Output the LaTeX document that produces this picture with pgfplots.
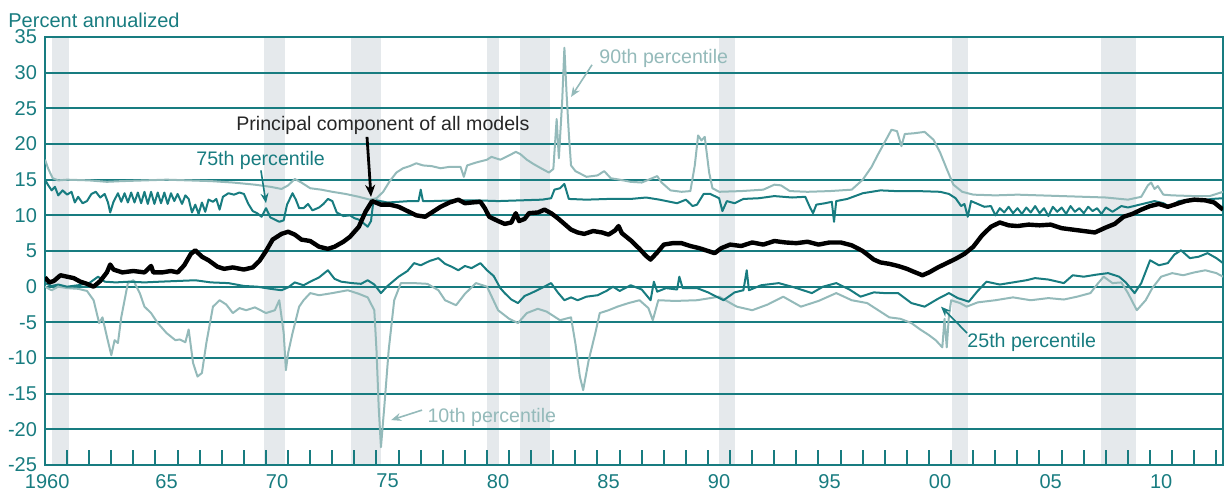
\documentclass[border=0pt]{standalone}
\usepackage{pgfplots}
\pgfplotsset{compat=1.18}
\usepackage{fontspec}
\setmainfont{Liberation Sans}
\usetikzlibrary{arrows.meta}
\definecolor{tealA}{RGB}{24,124,128}
\definecolor{tealL}{RGB}{148,186,186}
\definecolor{rec}{RGB}{229,233,236}
\begin{document}
\begin{tikzpicture}
\begin{axis}[
  name=ax, at={(0,0)}, anchor=south west,
  scale only axis, width=589pt, height=214pt,
  xmin=1960, xmax=2013.3, ymin=-25, ymax=35,
  ytick={-25,-20,-15,-10,-5,0,5,10,15,20,25,30,35},
  xtick={1960.1,1965.5,1970.5,1975.5,1980.5,1985.5,1990.5,1995.5,2000.5,2005.5,2010.5},
  xticklabels={1960,65,70,75,80,85,90,95,00,05,10},
  minor xtick={1961,1962,...,2013},
  xtick pos=bottom, ytick pos=left,
  major tick length=0pt, minor tick length=7.5pt, tick align=inside,
  minor tick style={tealA, line width=1pt},
  ymajorgrids, grid style={tealA, line width=1pt},
  axis line style={tealA, line width=1.2pt},
  ticklabel style={font=\fontsize{10}{12}\selectfont, text=tealA},
  yticklabel style={xshift=-0.5pt},
  xticklabel style={yshift=-1pt},
  /pgf/number format/assume math mode=true,
  set layers,
]
% recessions
\addplot[fill=rec, draw=none, on layer=axis background] coordinates {(1960.3,-25) (1961.1,-25) (1961.1,35) (1960.3,35)} -- cycle;
\addplot[fill=rec, draw=none, on layer=axis background] coordinates {(1969.9,-25) (1970.85,-25) (1970.85,35) (1969.9,35)} -- cycle;
\addplot[fill=rec, draw=none, on layer=axis background] coordinates {(1973.85,-25) (1975.2,-25) (1975.2,35) (1973.85,35)} -- cycle;
\addplot[fill=rec, draw=none, on layer=axis background] coordinates {(1980.0,-25) (1980.55,-25) (1980.55,35) (1980.0,35)} -- cycle;
\addplot[fill=rec, draw=none, on layer=axis background] coordinates {(1981.5,-25) (1982.85,-25) (1982.85,35) (1981.5,35)} -- cycle;
\addplot[fill=rec, draw=none, on layer=axis background] coordinates {(1990.5,-25) (1991.2,-25) (1991.2,35) (1990.5,35)} -- cycle;
\addplot[fill=rec, draw=none, on layer=axis background] coordinates {(2001.05,-25) (2001.75,-25) (2001.75,35) (2001.05,35)} -- cycle;
\addplot[fill=rec, draw=none, on layer=axis background] coordinates {(2007.8,-25) (2009.35,-25) (2009.35,35) (2007.8,35)} -- cycle;

% 10th percentile
\addplot[tealL, line width=1pt, mark=none, line join=round] coordinates {
(1960.0,0.0) (1960.3,-0.5) (1960.6,0.0) (1961.0,-0.2) (1961.5,-0.3) (1961.9,-0.6) (1962.2,-1.9) (1962.45,-5.1) (1962.6,-4.3) (1962.8,-7.0) (1963.0,-9.6) (1963.15,-7.5) (1963.3,-7.9) (1963.45,-4.3) (1963.6,-1.9) (1963.75,0.5) (1964.0,0.9) (1964.3,-1.0) (1964.5,-2.8) (1964.8,-3.7) (1965.1,-5.1) (1965.5,-6.5) (1965.9,-7.5) (1966.1,-7.4) (1966.35,-7.8) (1966.5,-6.0) (1966.7,-10.7) (1966.9,-12.6) (1967.1,-12.1) (1967.3,-7.9) (1967.6,-2.8) (1967.9,-1.9) (1968.2,-2.5) (1968.5,-3.7) (1968.8,-3.0) (1969.1,-3.3) (1969.5,-2.9) (1970.0,-3.7) (1970.4,-3.3) (1970.6,-1.9) (1970.8,-6.5) (1970.9,-11.7) (1971.0,-9.3) (1971.2,-6.5) (1971.5,-2.8) (1971.7,-1.9) (1972.0,-0.9) (1972.4,-1.2) (1973.0,-0.9) (1973.7,-0.5) (1974.2,-1.0) (1974.6,-1.5) (1974.9,-3.3) (1975.0,-9) (1975.1,-17) (1975.2,-22.5) (1975.35,-16.9) (1975.55,-8.9) (1975.8,-1.9) (1976.1,0.5) (1976.7,0.5) (1977.3,0.4) (1977.8,-0.5) (1978.1,-1.9) (1978.6,-2.6) (1979.0,-1.0) (1979.5,0.5) (1980.0,0.0) (1980.5,-3.3) (1981.0,-4.5) (1981.4,-5.1) (1981.8,-3.7) (1982.3,-3.1) (1982.7,-3.5) (1983.3,-4.7) (1983.8,-4.3) (1984.0,-8) (1984.2,-12.6) (1984.35,-14.5) (1984.6,-10.3) (1984.9,-6.5) (1985.1,-3.7) (1985.5,-3.3) (1985.9,-2.8) (1986.4,-2.3) (1986.9,-1.9) (1987.3,-3.0) (1987.5,-4.7) (1987.75,-1.9) (1988.5,-2.0) (1989.5,-1.9) (1990.5,-1.4) (1991.3,-2.8) (1992.0,-3.3) (1992.7,-2.5) (1993.4,-1.4) (1994.2,-2.8) (1995.0,-2.0) (1995.8,-0.9) (1996.5,-1.9) (1997.2,-2.3) (1997.8,-3.5) (1998.2,-4.3) (1998.7,-4.5) (1999.2,-5.1) (1999.6,-6.0) (2000.0,-6.8) (2000.3,-7.5) (2000.6,-8.5) (2000.7,-4.5) (2000.8,-8.5) (2000.9,-4.0) (2001.0,-1.9) (2001.4,-2.3) (2001.7,-2.8) (2002.2,-2.2) (2003.0,-1.9) (2003.8,-1.5) (2004.6,-1.9) (2005.4,-1.6) (2006.1,-1.8) (2006.7,-1.4) (2007.3,-0.9) (2007.6,0.3) (2007.9,1.4) (2008.3,0.5) (2008.7,0.6) (2009.0,-0.9) (2009.4,-3.3) (2009.8,-1.9) (2010.1,-0.2) (2010.5,1.4) (2011.0,1.9) (2011.5,1.6) (2012.0,2.0) (2012.5,2.3) (2013.0,1.9) (2013.3,1.4)
};
% 90th percentile
\addplot[tealL, line width=1pt, mark=none, line join=round] coordinates {
(1960.0,17.8) (1960.15,16.5) (1960.35,15.2) (1960.6,14.9) (1961,15.0) (1962,14.9) (1962.8,14.7) (1963.5,14.8) (1964.5,14.9) (1965.5,15.0) (1966.5,14.9) (1967.5,14.8) (1968.5,14.6) (1969.5,14.3) (1970.2,14.0) (1970.7,13.7) (1971.0,14.2) (1971.3,15.1) (1971.6,14.6) (1972.0,13.8) (1972.5,13.6) (1973.0,13.3) (1973.6,13.0) (1974.2,12.6) (1974.7,12.2) (1975.0,12.4) (1975.3,13.3) (1975.6,14.8) (1975.9,16.0) (1976.2,16.6) (1976.5,16.9) (1976.8,17.3) (1977.1,17.0) (1977.5,16.9) (1977.9,16.6) (1978.3,16.8) (1978.8,16.8) (1978.95,15.4) (1979.1,17.0) (1979.5,17.4) (1980.0,17.8) (1980.2,18.2) (1980.6,17.8) (1981.0,18.4) (1981.3,18.9) (1981.5,18.6) (1981.8,17.8) (1982.1,17.2) (1982.5,16.5) (1982.8,16.0) (1983.0,16.5) (1983.15,23.5) (1983.25,18) (1983.4,26) (1983.5,33.5) (1983.6,27) (1983.7,21.5) (1983.8,17) (1984.0,16.2) (1984.5,15.4) (1985.0,15.6) (1985.3,16.2) (1985.6,15.2) (1986.0,15.0) (1986.5,14.7) (1987.0,14.6) (1987.7,15.5) (1987.9,14.6) (1988.3,13.5) (1988.8,13.3) (1989.2,13.4) (1989.4,17) (1989.55,21.2) (1989.7,20.5) (1989.85,21.0) (1990.05,16) (1990.2,13.8) (1990.5,13.3) (1991.5,13.4) (1992.5,13.6) (1993.0,14.3) (1993.3,14.2) (1993.7,13.4) (1994.5,13.3) (1995.5,13.4) (1996.5,13.6) (1997.0,15.0) (1997.4,16.8) (1997.7,18.6) (1998.0,20.3) (1998.3,22.0) (1998.55,21.8) (1998.75,19.7) (1998.9,21.4) (1999.3,21.5) (1999.8,21.7) (2000.2,20.6) (2000.5,18.8) (2000.8,16.5) (2001.1,14.3) (2001.5,13.3) (2002.0,12.9) (2003,12.8) (2004,12.9) (2005,12.8) (2006,12.7) (2007,12.6) (2008,12.5) (2009,12.2) (2009.6,12.6) (2009.9,14.2) (2010.05,14.6) (2010.2,13.7) (2010.35,14.1) (2010.6,12.9) (2011,12.8) (2012,12.7) (2012.7,12.7) (2013.3,13.3)
};
% 25th percentile
\addplot[tealA, line width=1pt, mark=none, line join=round] coordinates {
(1960.0,0.5) (1960.3,0.1) (1960.6,0.3) (1961.0,0.0) (1961.5,0.2) (1962.0,0.5) (1962.4,1.4) (1962.7,0.7) (1963.2,0.6) (1963.8,0.7) (1964.5,0.6) (1965.2,0.7) (1966.0,0.8) (1966.8,0.9) (1967.5,0.6) (1968.3,0.5) (1969.0,0.1) (1969.6,0.0) (1970.2,-0.3) (1970.7,-0.5) (1971.0,-0.1) (1971.3,0.6) (1971.7,0.2) (1972.0,0.7) (1972.4,1.3) (1972.8,2.3) (1973.1,1.1) (1973.4,0.7) (1973.9,0.5) (1974.3,0.4) (1974.6,0.9) (1974.9,0.3) (1975.2,-0.9) (1975.5,0.1) (1976.0,1.4) (1976.4,2.2) (1976.7,3.3) (1977.0,3.0) (1977.4,3.6) (1977.8,4.0) (1978.1,3.2) (1978.4,2.8) (1978.7,2.3) (1979.0,2.9) (1979.3,2.6) (1979.7,3.3) (1980.0,2.3) (1980.3,1.5) (1980.6,-0.2) (1980.8,-0.9) (1981.1,-1.8) (1981.4,-2.3) (1981.7,-1.3) (1982.0,-0.9) (1982.4,-0.3) (1982.9,0.5) (1983.2,-0.8) (1983.5,-1.9) (1983.8,-1.5) (1984.1,-1.9) (1984.5,-1.4) (1985.0,-1.2) (1985.4,-0.6) (1985.7,0.0) (1986.0,-0.6) (1986.5,0.2) (1987.0,-0.4) (1987.4,-1.9) (1987.55,0.7) (1987.7,-0.7) (1988.1,-0.2) (1988.6,-0.4) (1988.7,1.4) (1988.85,-0.2) (1989.5,-0.2) (1990.0,-0.8) (1990.7,-1.9) (1991.2,-0.8) (1991.6,-0.5) (1991.75,2.3) (1991.85,-0.5) (1992.4,0.2) (1993.2,0.5) (1993.9,-0.1) (1994.7,-0.9) (1995.2,0.0) (1995.8,0.5) (1996.4,-0.4) (1996.9,-1.4) (1997.5,-0.8) (1998.0,-0.9) (1998.6,-0.9) (1999.2,-2.3) (1999.8,-2.8) (2000.4,-1.7) (2000.9,-0.9) (2001.3,-1.6) (2001.8,-2.1) (2002.2,-0.6) (2002.6,0.7) (2003.2,0.3) (2003.8,0.6) (2004.4,0.9) (2004.8,1.2) (2005.4,1.0) (2006.1,0.5) (2006.5,1.6) (2007.0,1.4) (2007.6,1.7) (2008.1,1.9) (2008.6,1.4) (2008.9,0.6) (2009.3,-0.9) (2009.6,0.5) (2010.0,3.7) (2010.4,3.0) (2010.8,3.3) (2011.1,4.5) (2011.4,5.1) (2011.8,4.0) (2012.2,4.2) (2012.6,4.7) (2013.0,4.0) (2013.3,3.3)
};
% 75th percentile
\addplot[tealA, line width=1pt, mark=none, line join=round] coordinates {
(1960.0,15.0) (1960.15,14.2) (1960.3,13.5) (1960.45,14.0) (1960.6,12.8) (1960.8,13.5) (1961.0,12.9) (1961.2,13.3) (1961.35,11.8) (1961.5,12.6) (1961.7,11.7) (1961.9,12.0) (1962.1,13.0) (1962.3,13.3) (1962.5,12.5) (1962.7,13.0) (1962.85,11.8) (1962.95,10.4) (1963.1,11.9) (1963.3,13.1) (1963.45,11.9) (1963.6,13.1) (1963.75,11.8) (1963.9,13.2) (1964.05,11.8) (1964.2,13.2) (1964.35,11.7) (1964.5,13.3) (1964.65,11.6) (1964.8,13.3) (1964.95,11.6) (1965.1,13.2) (1965.25,11.7) (1965.4,13.2) (1965.55,11.6) (1965.7,13.1) (1965.85,12.0) (1966.0,13.0) (1966.2,11.6) (1966.35,12.8) (1966.5,12.3) (1966.65,10.4) (1966.8,11.5) (1966.95,10.2) (1967.1,11.8) (1967.25,10.5) (1967.4,12.2) (1967.6,11.9) (1967.75,12.3) (1967.9,10.8) (1968.05,12.6) (1968.3,13.1) (1968.55,12.9) (1968.8,13.2) (1969.0,13.0) (1969.2,11.6) (1969.4,10.6) (1969.6,10.3) (1969.8,9.8) (1970.0,11.0) (1970.2,9.7) (1970.4,9.4) (1970.6,9.1) (1970.8,9.3) (1970.95,11.5) (1971.2,13.1) (1971.35,12.2) (1971.5,11.0) (1971.7,11.0) (1971.9,11.6) (1972.1,10.7) (1972.4,11.1) (1972.6,11.6) (1972.8,12.3) (1973.0,12.0) (1973.2,10.4) (1973.5,9.9) (1973.8,10.0) (1974.0,9.6) (1974.2,9.4) (1974.45,8.8) (1974.6,8.4) (1974.75,9.2) (1974.85,11.8) (1975.0,12.1) (1975.5,11.8) (1976.0,11.9) (1976.5,12.0) (1976.9,12.0) (1977.0,13.6) (1977.1,12.0) (1977.5,12.0) (1978.5,12.1) (1979.5,12.1) (1980.5,12.0) (1981.5,12.1) (1982.5,12.2) (1982.9,12.4) (1983.05,13.6) (1983.3,13.8) (1983.5,14.4) (1983.7,12.3) (1984.5,12.2) (1985.5,12.3) (1986.5,12.3) (1987.2,12.5) (1987.8,12.2) (1988.6,11.7) (1989.0,12.2) (1989.3,11.3) (1989.5,11.5) (1989.8,13.0) (1990.1,13.0) (1990.5,12.4) (1990.65,10.6) (1990.85,12.0) (1991.2,11.7) (1991.6,12.3) (1992.3,12.4) (1993.0,12.7) (1993.8,12.5) (1994.4,12.6) (1994.6,11.2) (1994.75,10.3) (1994.9,11.5) (1995.3,11.7) (1995.6,11.9) (1995.7,9.1) (1995.8,12.0) (1996.3,12.3) (1997.0,13.1) (1997.8,13.5) (1998.5,13.4) (1999.5,13.4) (2000.5,13.3) (2000.9,13.0) (2001.2,12.4) (2001.45,11.3) (2001.6,11.6) (2001.75,9.8) (2001.9,12.0) (2002.2,11.6) (2002.5,11.2) (2002.8,11.3) (2003.0,10.0) (2003.2,11.0) (2003.4,10.4) (2003.6,11.2) (2003.8,10.3) (2004.0,11.0) (2004.2,10.2) (2004.4,11.1) (2004.6,10.4) (2004.8,11.3) (2005.0,10.3) (2005.2,11.0) (2005.4,9.9) (2005.6,11.2) (2005.8,10.5) (2006.0,11.1) (2006.2,10.2) (2006.4,11.3) (2006.6,10.5) (2006.8,11.0) (2007.0,10.3) (2007.2,11.2) (2007.4,10.6) (2007.6,11.0) (2007.8,10.2) (2008.0,11.1) (2008.3,10.5) (2008.7,11.3) (2009.0,11.1) (2009.4,11.4) (2009.8,11.7) (2010.2,12.0) (2010.6,11.7) (2010.9,11.2) (2011.3,12.0) (2011.8,12.2) (2012.3,12.1) (2012.8,12.3) (2013.3,12.4)
};
% principal component
\addplot[black, line width=2.2pt, mark=none, line join=round] coordinates {
(1960.0,1.3) (1960.2,0.6) (1960.4,0.8) (1960.7,1.6) (1961.0,1.4) (1961.3,1.2) (1961.6,0.7) (1961.9,0.4) (1962.2,0.0) (1962.5,0.8) (1962.8,2.0) (1962.95,3.1) (1963.1,2.4) (1963.5,2.0) (1964.0,2.2) (1964.5,2.0) (1964.8,2.9) (1964.9,2.0) (1965.3,2.0) (1965.7,2.2) (1966.0,2.0) (1966.3,3.0) (1966.6,4.6) (1966.8,5.1) (1967.1,4.2) (1967.4,3.7) (1967.8,2.8) (1968.1,2.5) (1968.5,2.7) (1969.0,2.4) (1969.4,2.7) (1969.7,3.6) (1970.0,5.0) (1970.3,6.6) (1970.7,7.4) (1971.0,7.7) (1971.3,7.3) (1971.6,6.6) (1972.0,6.4) (1972.4,5.6) (1972.8,5.3) (1973.1,5.6) (1973.5,6.3) (1973.8,7.0) (1974.2,8.4) (1974.5,10.5) (1974.8,12.0) (1975.2,11.5) (1975.6,11.5) (1976.0,11.2) (1976.4,10.6) (1976.8,10.0) (1977.2,9.8) (1977.6,10.6) (1977.9,11.2) (1978.3,11.8) (1978.7,12.2) (1979.0,11.7) (1979.3,11.8) (1979.7,11.9) (1979.9,11.0) (1980.1,9.8) (1980.5,9.2) (1980.8,8.8) (1981.1,9.0) (1981.3,10.3) (1981.45,9.2) (1981.7,9.5) (1981.9,10.3) (1982.3,10.4) (1982.6,10.8) (1982.9,10.3) (1983.2,9.6) (1983.5,8.8) (1983.8,8.0) (1984.1,7.6) (1984.4,7.4) (1984.8,7.8) (1985.2,7.6) (1985.5,7.3) (1985.8,7.9) (1985.95,8.5) (1986.1,7.5) (1986.5,6.5) (1986.9,5.3) (1987.2,4.3) (1987.4,3.8) (1987.7,4.8) (1988.0,5.9) (1988.4,6.1) (1988.8,6.1) (1989.2,5.7) (1989.6,5.4) (1990.0,5.0) (1990.3,4.7) (1990.6,5.4) (1991.0,5.9) (1991.5,5.7) (1992.0,6.2) (1992.5,5.9) (1993.0,6.4) (1993.5,6.2) (1994.0,6.1) (1994.5,6.3) (1995.0,5.9) (1995.5,6.2) (1996.0,6.2) (1996.5,5.8) (1997.0,5.0) (1997.5,3.8) (1997.8,3.4) (1998.2,3.2) (1998.6,2.9) (1999.0,2.5) (1999.3,2.1) (1999.7,1.6) (2000.0,2.0) (2000.4,2.7) (2000.8,3.3) (2001.2,3.9) (2001.6,4.6) (2002.0,5.6) (2002.4,7.2) (2002.8,8.4) (2003.2,9.0) (2003.6,8.6) (2004.0,8.5) (2004.5,8.7) (2005.0,8.6) (2005.5,8.7) (2006.0,8.2) (2006.5,8.0) (2007.0,7.8) (2007.5,7.6) (2008.0,8.3) (2008.4,8.8) (2008.8,9.8) (2009.2,10.2) (2009.6,10.8) (2010.0,11.3) (2010.4,11.6) (2010.8,11.2) (2011.2,11.6) (2011.6,12.0) (2012.0,12.2) (2012.5,12.1) (2012.9,11.8) (2013.3,10.8)
};

% labels
\node[anchor=base west, inner sep=0pt, text=tealL, font=\fontsize{9.8}{12}\selectfont] at (axis cs:1985.07,31.35) {90th percentile};
\draw[tealL, line width=0.8pt, -{Stealth[length=5pt,width=4pt]}] (axis cs:1984.75,31.1) -- (axis cs:1983.8,26.6);
\node[anchor=base west, inner sep=0pt, text=black!85, font=\fontsize{9.8}{12}\selectfont] at (axis cs:1968.64,21.96) {Principal component of all models};
\draw[black, line width=1.4pt, -{Stealth[length=6pt,width=5pt]}] (axis cs:1974.57,21.0) -- (axis cs:1974.75,12.6);
\node[anchor=base west, inner sep=0pt, text=tealA, font=\fontsize{9.8}{12}\selectfont] at (axis cs:1966.83,17.05) {75th percentile};
\draw[tealA, line width=0.8pt, -{Stealth[length=5pt,width=4pt]}] (axis cs:1969.77,16.3) -- (axis cs:1970.0,11.7);
\node[anchor=base west, inner sep=0pt, text=tealA, font=\fontsize{9.8}{12}\selectfont] at (axis cs:2001.72,-8.46) {25th percentile};
\draw[tealA, line width=0.8pt, -{Stealth[length=5pt,width=4pt]}] (axis cs:2001.72,-6.5) -- (axis cs:2000.54,-2.8);
\node[anchor=base west, inner sep=0pt, text=tealL, font=\fontsize{9.8}{12}\selectfont] at (axis cs:1977.29,-18.98) {10th percentile};
\draw[tealL, line width=0.8pt, -{Stealth[length=5pt,width=4pt]}] (axis cs:1977.06,-17.3) -- (axis cs:1975.66,-18.7);
\end{axis}
\node[anchor=base west, inner sep=0pt, text=tealA, font=\fontsize{10}{12}\selectfont] at ([xshift=-18.5pt,yshift=5pt]ax.north west) {Percent annualized};
\pgfresetboundingbox
\path[use as bounding box] (-22.5pt,-15pt) rectangle (590pt,232.5pt);
\end{tikzpicture}
\end{document}
